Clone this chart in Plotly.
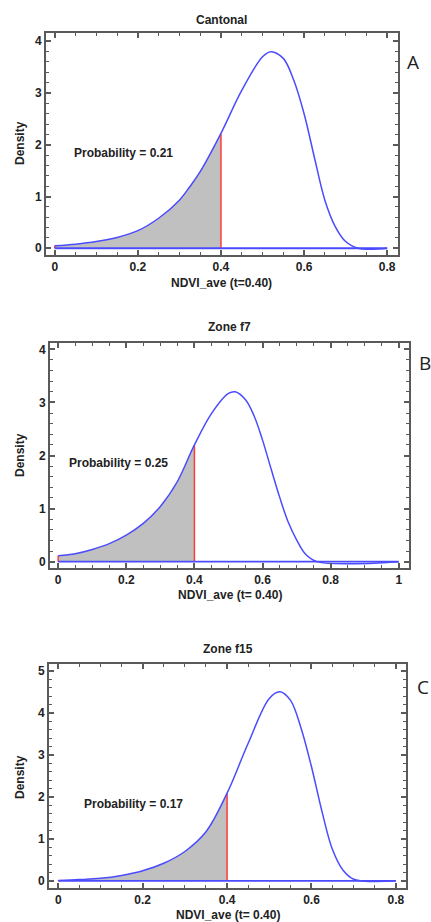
import plotly.graph_objects as go

# density curves (NDVI_ave, density)
cant_x = [0.0, 0.05, 0.1, 0.15, 0.2, 0.25, 0.3, 0.325, 0.35, 0.4, 0.45, 0.5, 0.52, 0.55, 0.575, 0.6, 0.625, 0.65, 0.675, 0.7, 0.73, 0.8]
cant_y = [0.05, 0.08, 0.13, 0.21, 0.34, 0.58, 0.93, 1.19, 1.48, 2.22, 3.05, 3.70, 3.80, 3.67, 3.25, 2.60, 1.75, 0.93, 0.42, 0.13, 0.0, 0.0]

f7_x = [0.0, 0.05, 0.1, 0.15, 0.2, 0.25, 0.3, 0.35, 0.4, 0.45, 0.5, 0.52, 0.55, 0.575, 0.6, 0.625, 0.65, 0.675, 0.7, 0.725, 0.76, 1.0]
f7_y = [0.11, 0.15, 0.23, 0.34, 0.50, 0.72, 1.04, 1.51, 2.20, 2.79, 3.17, 3.20, 3.05, 2.75, 2.29, 1.75, 1.22, 0.75, 0.41, 0.15, 0.0, 0.0]

f15_x = [0.0, 0.05, 0.1, 0.15, 0.2, 0.25, 0.3, 0.35, 0.4, 0.45, 0.5, 0.525, 0.55, 0.575, 0.6, 0.625, 0.65, 0.675, 0.7, 0.8]
f15_y = [0.01, 0.03, 0.06, 0.13, 0.24, 0.42, 0.70, 1.17, 2.09, 3.28, 4.35, 4.51, 4.31, 3.65, 2.72, 1.65, 0.74, 0.25, 0.04, 0.0]

titles = ["Cantonal", "Zone f7", "Zone f15"]
xlabels = ["NDVI_ave (t=0.40)", "NDVI_ave (t= 0.40)", "NDVI_ave (t= 0.40)"]
probs = ["Probability = 0.21", "Probability = 0.25", "Probability = 0.17"]
letters = ["A", "B", "C"]
threshold = 0.4
xmax = [0.8, 1.0, 0.8]

curves = [(cant_x, cant_y), (f7_x, f7_y), (f15_x, f15_y)]

W, H = 431, 922


def px(x):
    return x / W


def py(y):
    return 1 - y / H


# plot frames in page pixels: left, right, top, bottom
frames = [(46, 398, 33, 255), (50, 409, 343, 568), (49, 406, 664, 888)]
xranges = [[-0.021, 0.826], [-0.024, 1.03], [-0.022, 0.824]]
yranges = [[-0.13, 4.16], [-0.12, 4.12], [-0.17, 5.17]]
title_y = [20, 327, 649]
xlab_y = [283, 595, 915]
dens_y = [143, 455, 777]
letter_pos = [(413, 62), (425, 363), (423, 687)]
prob_pos = [(0.041, 1.84), (0.025, 1.85), (0.057, 1.83)]

BLUE = "#4b4bff"
RED = "#ff3b3b"
FRAME = "#5a5a5a"
FONT = "Liberation Sans"

fig = go.Figure()
annotations = []

for i, (cx, cy) in enumerate(curves):
    xa = "x" if i == 0 else f"x{i + 1}"
    ya = "y" if i == 0 else f"y{i + 1}"

    # shaded area up to the threshold
    sx = [v for v in cx if v <= threshold]
    sy = [cy[k] for k, v in enumerate(cx) if v <= threshold]
    fig.add_trace(go.Scatter(x=sx, y=sy, mode="lines", line=dict(width=0, shape="spline"),
                             fill="tozeroy", fillcolor="#c0c0c0", xaxis=xa, yaxis=ya,
                             showlegend=False, hoverinfo="skip"))
    # red line at threshold
    ty = cy[cx.index(threshold)]
    fig.add_trace(go.Scatter(x=[threshold, threshold], y=[0, ty], mode="lines",
                             line=dict(color=RED, width=1.5), xaxis=xa, yaxis=ya, showlegend=False))
    # red line at the start of the shaded area
    fig.add_trace(go.Scatter(x=[0, 0], y=[0, cy[0]], mode="lines",
                             line=dict(color=RED, width=1.5), xaxis=xa, yaxis=ya, showlegend=False))
    # baseline
    fig.add_trace(go.Scatter(x=[0, xmax[i]], y=[0, 0], mode="lines",
                             line=dict(color=BLUE, width=1.8), xaxis=xa, yaxis=ya, showlegend=False))
    # density curve
    fig.add_trace(go.Scatter(x=cx, y=cy, mode="lines", line=dict(color=BLUE, width=1.5, shape="spline"),
                             xaxis=xa, yaxis=ya, showlegend=False))

    l, r, t, b = frames[i]
    axis_common = dict(showline=True, linecolor=FRAME, linewidth=2, mirror="ticks", ticks="inside",
                       tickcolor=FRAME, ticklen=5, tickwidth=1.5, showgrid=False, zeroline=False,
                       tickfont=dict(family=FONT, size=12, color="#222222", weight="bold"))
    fig.update_layout(**{
        ("xaxis" if i == 0 else f"xaxis{i + 1}"): dict(
            domain=[px(l), px(r)], range=xranges[i], anchor=ya, dtick=0.2, tickformat="~g",
            minor=dict(ticks="inside", dtick=0.05, ticklen=3, tickcolor=FRAME, tickwidth=1),
            **axis_common),
        ("yaxis" if i == 0 else f"yaxis{i + 1}"): dict(
            domain=[py(b), py(t)], range=yranges[i], anchor=xa, dtick=1,
            minor=dict(ticks="inside", dtick=0.2, ticklen=3, tickcolor=FRAME, tickwidth=1),
            **axis_common),
    })

    bold = dict(family=FONT, size=12, color="#222222", weight="bold")
    cxp = px((l + r) / 2)
    annotations.append(dict(text=titles[i], x=cxp, y=py(title_y[i]), xref="paper", yref="paper",
                            xanchor="center", yanchor="middle", showarrow=False, font=bold))
    annotations.append(dict(text=xlabels[i], x=cxp, y=py(xlab_y[i]), xref="paper", yref="paper",
                            xanchor="center", yanchor="middle", showarrow=False, font=bold))
    annotations.append(dict(text="Density", x=px(20), y=py(dens_y[i]), xref="paper", yref="paper",
                            xanchor="center", yanchor="middle", showarrow=False, textangle=-90, font=bold))
    annotations.append(dict(text=letters[i], x=px(letter_pos[i][0]), y=py(letter_pos[i][1]),
                            xref="paper", yref="paper", xanchor="center", yanchor="middle", showarrow=False,
                            font=dict(family="Open Sans", size=19, color="#222222")))
    annotations.append(dict(text=probs[i], x=prob_pos[i][0], y=prob_pos[i][1], xref=xa, yref=ya,
                            xanchor="left", yanchor="middle", showarrow=False, font=bold))

fig.update_layout(width=W, height=H, margin=dict(l=0, r=0, t=0, b=0),
                  plot_bgcolor="white", paper_bgcolor="white", annotations=annotations)

# drop the default page margin so the figure fills the window
fig.write_html("out.html", config={"displayModeBar": False},
               post_script="document.body.style.margin='0';document.body.style.overflow='hidden';")
